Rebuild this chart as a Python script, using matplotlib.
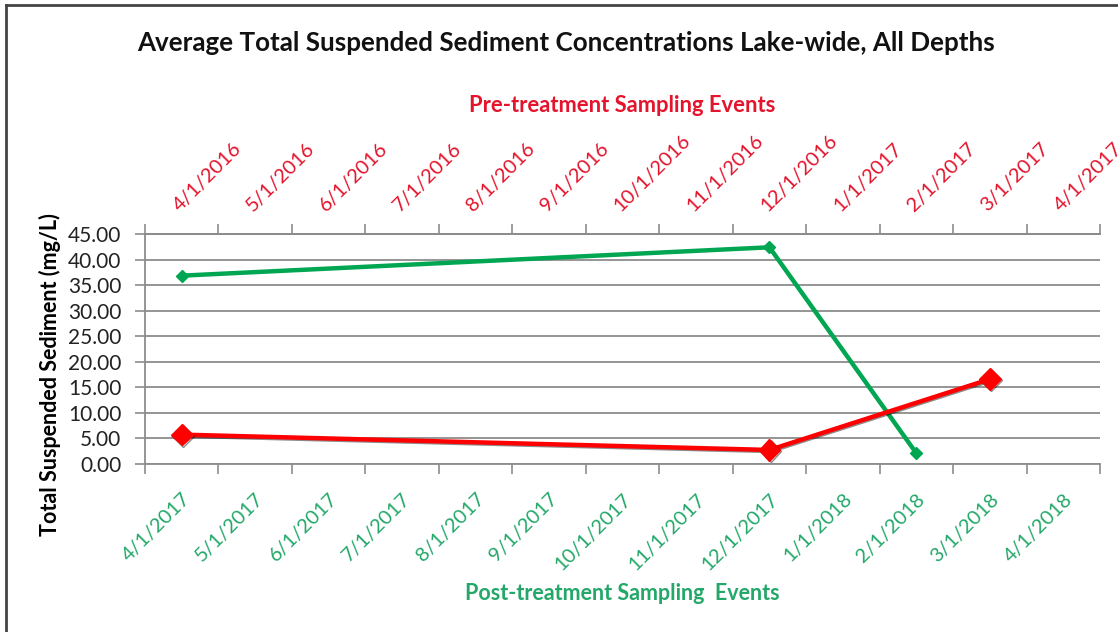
import matplotlib.pyplot as plt
import matplotlib.patheffects as pe
from matplotlib.lines import Line2D

# -----------------------------
# DATA
# -----------------------------

pre_labels = ['4/1/2016', '5/1/2016', '6/1/2016', '7/1/2016', '8/1/2016',
              '9/1/2016', '10/1/2016', '11/1/2016', '12/1/2016', '1/1/2017',
              '2/1/2017', '3/1/2017', '4/1/2017']
post_labels = ['4/1/2017', '5/1/2017', '6/1/2017', '7/1/2017', '8/1/2017',
               '9/1/2017', '10/1/2017', '11/1/2017', '12/1/2017', '1/1/2018',
               '2/1/2018', '3/1/2018', '4/1/2018']

pre_dates = ['4/1/2016', '12/1/2016', '3/1/2017']
pre_tss = [5.75, 2.75, 16.6]

post_dates = ['4/1/2017', '12/1/2017', '2/1/2018']
post_tss = [36.85, 42.4, 2.1]

y_ticks = [0, 5, 10, 15, 20, 25, 30, 35, 40, 45]

# -----------------------------
# STYLE
# -----------------------------

FONT = 'Lato'
RED = '#FF0000'
RED_TXT = '#E3142C'
GREEN = '#00A651'
GREEN_TXT = '#23A869'
GRID = '#8C8C8C'

plt.rcParams['font.family'] = FONT

W, H = 1118, 632
fig = plt.figure(figsize=(W / 100, H / 100), dpi=100)
fig.patch.set_facecolor('white')

ax = fig.add_axes([145 / W, 1 - 464 / H, (1100 - 145) / W, (464 - 234) / H])

n = len(post_labels)
ax.set_xlim(0, n)
ax.set_ylim(0, 45)

# month slot centres
post_x = [post_labels.index(d) + 0.5 for d in post_dates]
pre_x = [pre_labels.index(d) + 0.5 for d in pre_dates]

ax.plot(post_x, post_tss, color=GREEN, lw=3.2, marker='D', ms=6,
        zorder=3, solid_joinstyle='round')
ax.plot(pre_x, pre_tss, color=RED, lw=3.2, marker='D', ms=11, zorder=4,
        solid_joinstyle='round',
        path_effects=[pe.SimpleLineShadow(offset=(0.8, -0.8), alpha=0.45),
                      pe.Normal()])

# y axis
ax.set_yticks(y_ticks)
ax.set_yticklabels([f'{v:.2f}' for v in y_ticks], fontsize=15, color='#222222')
ax.yaxis.grid(True, color=GRID, lw=1.3)
ax.tick_params(axis='y', length=7, width=1.2, color=GRID, pad=10)
ax.set_ylabel('Total Suspended Sediment (mg/L)', fontsize=15.5,
              fontweight='bold')
ax.yaxis.set_label_coords(-0.088, 0.39)

ax.spines['right'].set_visible(False)
for side in ['left', 'bottom', 'top']:
    ax.spines[side].set_color(GRID)
    ax.spines[side].set_linewidth(1.3)

# bottom axis (post-treatment)
ax.set_xticks(range(n + 1))
ax.set_xticklabels([])
ax.set_xticks([i + 0.5 for i in range(n)], minor=True)
ax.set_xticklabels(post_labels, minor=True, rotation=45, ha='right',
                   va='top', rotation_mode='anchor', fontsize=14.5,
                   color=GREEN_TXT)
ax.tick_params(axis='x', which='major', length=7, width=1.2, color=GRID)
ax.tick_params(axis='x', which='minor', length=0, pad=19)

# top axis (pre-treatment)
ax2 = ax.twiny()
ax2.set_xlim(0, n)
ax2.set_xticks(range(n + 1))
ax2.set_xticklabels([])
ax2.set_xticks([i + 0.5 for i in range(n)], minor=True)
ax2.set_xticklabels(pre_labels, minor=True, rotation=45, ha='left',
                    va='bottom', rotation_mode='anchor', fontsize=14.5,
                    color=RED_TXT)
ax2.tick_params(axis='x', which='major', length=7, width=1.2, color=GRID)
ax2.tick_params(axis='x', which='minor', length=0, pad=14)
for side in ['right', 'left', 'bottom']:
    ax2.spines[side].set_visible(False)
ax2.spines['top'].set_color(GRID)
ax2.spines['top'].set_linewidth(1.3)

# titles
fig.text(566 / W, 1 - 43 / H,
         'Average Total Suspended Sediment Concentrations Lake-wide, All Depths',
         ha='center', va='center', fontsize=18.7, fontweight='bold',
         color='#111111')
fig.text(622 / W, 1 - 105 / H, 'Pre-treatment Sampling Events',
         ha='center', va='center', fontsize=15.8, fontweight='bold',
         color=RED_TXT)
fig.text(622 / W, 1 - 594 / H, 'Post-treatment Sampling  Events',
         ha='center', va='center', fontsize=15.5, fontweight='bold',
         color=GREEN_TXT)

# chart border (left and top edges visible)
fig.add_artist(Line2D([6 / W, 6 / W], [0, 1 - 5 / H], color='#444444',
                      lw=2, transform=fig.transFigure))
fig.add_artist(Line2D([6 / W, 1], [1 - 5 / H, 1 - 5 / H], color='#444444',
                      lw=2, transform=fig.transFigure))

fig.savefig('out.png', dpi=100)
